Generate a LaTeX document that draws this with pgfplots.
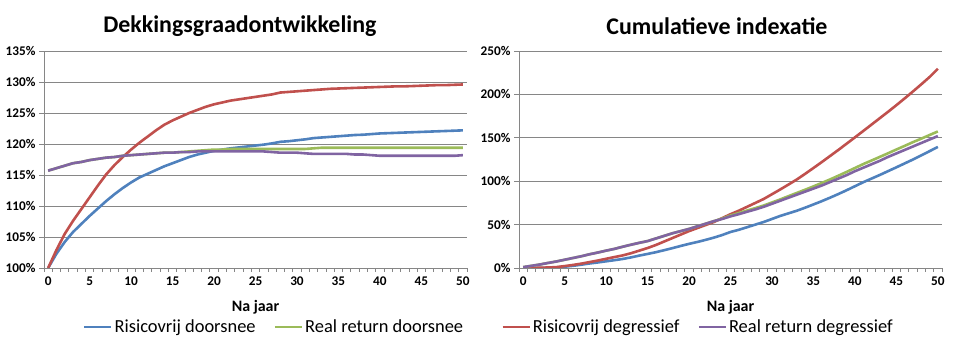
\documentclass[border=0pt]{standalone}
\usepackage{fontspec}
\setmainfont{Carlito}
\usepackage{pgfplots}
\usepackage{pgfplotstable}
\pgfplotsset{compat=1.18}
\definecolor{cblue}{HTML}{4F81BD}
\definecolor{cred}{HTML}{C0504D}
\definecolor{cgreen}{HTML}{9BBB59}
\definecolor{cpurple}{HTML}{8064A2}
\definecolor{axgray}{HTML}{868686}

\pgfplotstableread{
k blue red green purple
0 100 100 115.7 115.7
1 102.3 102.9 116.1 116.1
2 104.2 105.5 116.5 116.5
3 105.8 107.6 116.9 116.9
4 107.1 109.5 117.1 117.1
5 108.4 111.4 117.4 117.4
6 109.6 113.3 117.6 117.6
7 110.8 115.1 117.8 117.8
8 111.9 116.6 117.9 117.9
9 112.9 117.9 118.1 118.1
10 113.8 119.1 118.2 118.2
11 114.6 120.2 118.3 118.3
12 115.2 121.2 118.4 118.4
13 115.8 122.2 118.5 118.5
14 116.4 123.1 118.6 118.6
15 116.9 123.8 118.6 118.6
16 117.4 124.4 118.7 118.7
17 117.9 125.0 118.8 118.7
18 118.3 125.5 118.9 118.8
19 118.6 126.0 119.0 118.8
20 118.9 126.4 119.1 118.8
21 119.1 126.7 119.1 118.8
22 119.3 127.0 119.2 118.8
23 119.45 127.2 119.2 118.8
24 119.6 127.4 119.2 118.8
25 119.75 127.6 119.2 118.8
26 119.9 127.8 119.2 118.8
27 120.1 128.0 119.2 118.7
28 120.35 128.3 119.2 118.6
29 120.45 128.4 119.2 118.6
30 120.6 128.5 119.2 118.6
31 120.75 128.6 119.2 118.5
32 120.95 128.7 119.3 118.4
33 121.05 128.8 119.4 118.4
34 121.15 128.9 119.4 118.4
35 121.25 128.95 119.4 118.4
36 121.35 129.0 119.4 118.4
37 121.45 129.05 119.4 118.3
38 121.5 129.1 119.4 118.3
39 121.6 129.15 119.4 118.2
40 121.7 129.2 119.4 118.1
41 121.75 129.25 119.4 118.1
42 121.8 129.3 119.4 118.1
43 121.85 129.3 119.4 118.1
44 121.9 129.35 119.4 118.1
45 121.95 129.4 119.4 118.1
46 122.0 129.45 119.4 118.1
47 122.05 129.5 119.4 118.1
48 122.1 129.5 119.4 118.1
49 122.15 129.55 119.4 118.1
50 122.2 129.6 119.4 118.2
}\dekking

\pgfplotstableread{
k blue red green purple
0 0 0 1 1
1 0 0.1 2.5 2.5
2 0.1 0.3 4 4
3 0.3 0.6 5.8 5.8
4 0.7 1.0 7.5 7.5
5 1.5 2.2 9.5 9.5
6 2.5 3.5 11.5 11.5
7 3.8 5.0 13.5 13.5
8 5.2 6.8 15.8 15.8
9 6.4 8.6 17.8 17.8
10 7.7 10.6 20 20
11 9 12.6 22 22
12 10.4 14.5 24.5 24.5
13 12.2 17 26.8 26.8
14 14.3 20 29 29
15 16.2 23 31 31
16 18.2 26.5 34 34
17 20.5 30.5 37 37
18 22.9 34.5 40 40
19 25.4 38.5 42.5 42.5
20 27.8 42.5 45 45
21 30 46 48 48
22 32.4 49.5 51 51
23 35 53 54 54
24 38 57.5 57 56.5
25 41.5 62 60.5 59.5
26 44 66 63.3 62
27 47 70.5 66.2 64.8
28 50 75 69 67.5
29 53 79.5 72 70.5
30 56.5 85 75.5 74
31 60 90.5 79 77.5
32 63 96.2 82.8 81
33 66 102 86.5 84.5
34 69.5 108.5 90.2 88
35 73.2 115.2 94 91.5
36 77 122 98 95
37 81 129 102 99
38 85.2 136 106.3 103
39 89.6 143.2 110.7 107
40 94.2 150.5 115.2 111.5
41 98.8 157.8 119.7 115.5
42 103 165.2 123.8 119.5
43 107.2 172.6 128 123.5
44 111.6 180 132.2 128
45 116 187.6 136.5 132
46 120.5 195.4 140.7 136
47 125 203.4 145 140
48 129.8 211.6 149 144
49 134.6 220 153.2 148
50 139.5 229.5 157.3 152
}\indexatie

\pgfplotsset{
  common/.style={
    scale only axis,
    width=423bp, height=217bp,
    xmin=-0.5, xmax=50.5,
    xtick={0,5,...,50},
    minor xtick={-0.5,0.5,...,50.5},
    major x tick style={draw=none},
    minor x tick style={axgray, line width=0.8bp},
    y tick style={axgray, line width=0.8bp},
    tick align=outside,
    major tick length=5bp,
    minor tick length=4bp,
    axis lines*=left,
    axis line style={axgray, line width=0.8bp},
    ymajorgrids,
    major grid style={axgray, line width=0.8bp},
    /pgf/number format/assume math mode=true,
    tick label style={font=\bfseries\fontsize{13.3}{15}\selectfont},
    xlabel={Na jaar},
    xlabel style={at={(axis description cs:0.5,-0.18)}, anchor=center, font=\bfseries\fontsize{16}{18}\selectfont},
    title style={anchor=center, font=\bfseries\fontsize{24}{28}\selectfont},
    legend columns=2,
    legend image code/.code={\draw[#1] (0bp,0bp) -- (27bp,0bp);},
    every axis plot/.append style={line width=2.6bp, line join=round},
  }
}

\begin{document}
\begin{tikzpicture}
\path[use as bounding box] (0,0) rectangle (962bp,359bp);
\begin{axis}[common,
  at={(44bp,91bp)}, anchor=south west,
  ymin=100, ymax=135, ytick={100,105,...,135},
  yticklabel={\pgfmathprintnumber{\tick}\%},
  title={Dekkingsgraadontwikkeling},
  title style={at={(axis description cs:0.463,1.085)}},
  legend style={at={(axis description cs:0.544,-0.272)}, anchor=center, draw=none, fill=none,
    font=\fontsize{18.5}{20}\selectfont,
    /tikz/every even column/.append style={column sep=16bp}},
]
\addplot[cblue] table[x=k,y=blue]{\dekking};
\addlegendentry{Risicovrij doorsnee}
\addplot[cred, forget plot] table[x=k,y=red]{\dekking};
\addplot[cgreen] table[x=k,y=green]{\dekking};
\addlegendentry{Real return doorsnee}
\addplot[cpurple, forget plot] table[x=k,y=purple]{\dekking};
\end{axis}
\begin{axis}[common,
  at={(519bp,91bp)}, anchor=south west,
  ymin=0, ymax=250, ytick={0,50,...,250},
  yticklabel={\pgfmathprintnumber{\tick}\%},
  title={Cumulatieve indexatie},
  title style={at={(axis description cs:0.468,1.085)}},
  legend style={at={(axis description cs:0.423,-0.272)}, anchor=center, draw=none, fill=none,
    font=\fontsize{18.5}{20}\selectfont,
    /tikz/every even column/.append style={column sep=16bp}},
]
\addplot[cblue, forget plot] table[x=k,y=blue]{\indexatie};
\addplot[cred] table[x=k,y=red]{\indexatie};
\addlegendentry{Risicovrij degressief}
\addplot[cgreen, forget plot] table[x=k,y=green]{\indexatie};
\addplot[cpurple] table[x=k,y=purple]{\indexatie};
\addlegendentry{Real return degressief}
\end{axis}
\end{tikzpicture}
\end{document}
